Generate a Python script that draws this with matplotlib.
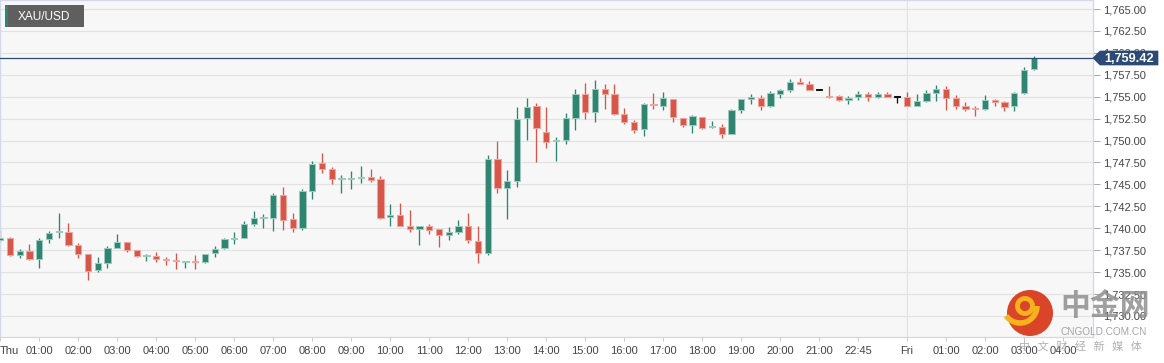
import matplotlib
matplotlib.use("Agg")
import matplotlib.pyplot as plt
from matplotlib.patches import Rectangle, Polygon, Circle, Arc
from matplotlib.ticker import FuncFormatter, FixedLocator

# ---------------- data ----------------
symbol = "XAU/USD"
last_price = 1759.42

opens = [1738.70, 1738.85, 1736.91, 1737.40, 1736.53, 1738.73, 1739.56, 1739.60, 1738.09, 1737.02,
         1735.20, 1736.00, 1737.78, 1738.43, 1737.52, 1736.80, 1736.83, 1736.53, 1736.38, 1736.19,
         1736.30, 1736.11, 1737.14, 1737.71, 1738.81, 1738.92, 1740.48, 1741.20, 1741.20, 1743.75,
         1741.05, 1740.06, 1744.24, 1747.40, 1746.75, 1745.57, 1745.61, 1745.76, 1745.80, 1745.57,
         1741.32, 1741.51, 1740.25, 1739.91, 1740.29, 1739.87, 1739.19, 1739.57, 1740.25, 1738.58,
         1737.21, 1747.88, 1744.63, 1745.39, 1752.57, 1753.90, 1750.97, 1749.91, 1750.02, 1752.53,
         1755.27, 1753.22, 1755.88, 1755.31, 1753.07, 1752.15, 1751.28, 1754.21, 1753.98, 1754.74,
         1752.53, 1751.77, 1752.68, 1751.50, 1751.55, 1750.75, 1753.48, 1754.78, 1754.89, 1753.98,
         1755.35, 1755.76, 1756.64, 1756.45, 1755.72, 1755.12, 1755.04, 1754.66, 1755.00, 1755.27,
         1754.93, 1755.31, 1754.93, 1754.97, 1753.98, 1754.55, 1755.46, 1755.84, 1754.85, 1753.94,
         1753.67, 1753.56, 1754.59, 1754.40, 1753.90, 1755.42, 1758.13]
highs = [1739.80, 1739.04, 1737.67, 1738.16, 1738.85, 1739.68, 1741.74, 1740.60, 1738.35, 1737.10,
         1736.68, 1737.97, 1739.30, 1738.45, 1737.55, 1737.06, 1737.33, 1736.76, 1737.14, 1736.27,
         1736.91, 1737.02, 1737.94, 1738.85, 1739.53, 1740.82, 1741.96, 1741.58, 1744.02, 1744.70,
         1741.74, 1744.43, 1747.63, 1748.58, 1746.98, 1746.07, 1746.49, 1747.06, 1746.75, 1745.92,
         1742.76, 1742.88, 1742.08, 1740.29, 1740.44, 1739.90, 1740.10, 1740.94, 1741.70, 1740.22,
         1748.31, 1749.93, 1746.62, 1753.79, 1754.85, 1754.28, 1753.79, 1750.37, 1753.14, 1755.88,
         1756.56, 1756.90, 1756.45, 1756.45, 1753.67, 1752.34, 1754.32, 1755.42, 1755.54, 1754.78,
         1752.56, 1752.91, 1752.70, 1752.23, 1751.85, 1753.60, 1754.76, 1755.35, 1755.20, 1755.61,
         1755.92, 1757.02, 1757.13, 1756.75, 1755.72, 1756.22, 1755.23, 1755.04, 1755.61, 1755.50,
         1755.57, 1755.50, 1754.95, 1755.57, 1755.27, 1755.76, 1756.30, 1756.18, 1755.16, 1754.44,
         1753.90, 1755.20, 1754.74, 1754.47, 1755.50, 1758.35, 1759.60]
lows = [1738.47, 1736.83, 1736.64, 1736.34, 1735.43, 1738.28, 1738.85, 1737.94, 1736.57, 1734.06,
        1734.97, 1735.50, 1737.78, 1737.33, 1736.76, 1736.23, 1736.19, 1735.77, 1735.35, 1735.43,
        1735.35, 1736.07, 1736.68, 1737.63, 1738.16, 1738.90, 1740.29, 1739.99, 1739.65, 1739.76,
        1739.53, 1739.76, 1743.29, 1746.33, 1745.00, 1743.98, 1744.51, 1745.19, 1745.31, 1741.01,
        1740.29, 1740.25, 1739.53, 1738.05, 1739.30, 1737.82, 1738.70, 1739.30, 1738.35, 1736.00,
        1736.91, 1744.07, 1741.01, 1744.67, 1750.02, 1747.52, 1749.11, 1747.71, 1749.57, 1751.17,
        1752.42, 1752.08, 1753.64, 1752.95, 1751.85, 1750.82, 1750.56, 1753.64, 1753.48, 1752.12,
        1751.58, 1750.90, 1751.32, 1751.43, 1750.33, 1750.70, 1753.18, 1754.13, 1753.52, 1753.86,
        1754.81, 1755.57, 1756.40, 1755.74, 1755.72, 1754.81, 1754.47, 1754.21, 1754.66, 1754.55,
        1754.91, 1754.95, 1754.32, 1753.92, 1753.96, 1754.36, 1754.47, 1753.45, 1753.56, 1753.37,
        1752.76, 1753.54, 1753.90, 1753.41, 1753.41, 1755.35, 1758.05]
closes = [1738.90, 1736.91, 1737.37, 1736.53, 1738.66, 1739.42, 1739.63, 1738.13, 1737.06, 1735.09,
          1736.00, 1737.78, 1738.43, 1737.48, 1736.87, 1736.87, 1736.49, 1736.34, 1736.23, 1736.27,
          1736.11, 1737.02, 1737.63, 1738.73, 1738.89, 1740.44, 1741.20, 1741.24, 1743.75, 1740.98,
          1740.08, 1744.24, 1747.36, 1746.75, 1745.65, 1745.69, 1745.69, 1745.88, 1745.54, 1741.20,
          1741.47, 1740.25, 1739.91, 1740.29, 1739.84, 1739.19, 1739.57, 1740.25, 1738.62, 1737.21,
          1747.93, 1744.64, 1745.42, 1752.50, 1753.83, 1751.39, 1749.87, 1750.06, 1752.53, 1755.27,
          1753.26, 1755.92, 1755.27, 1753.07, 1752.15, 1751.24, 1754.21, 1754.02, 1754.81, 1752.65,
          1751.77, 1752.76, 1751.47, 1751.55, 1750.75, 1753.48, 1754.74, 1754.93, 1753.98, 1755.38,
          1755.80, 1756.64, 1756.41, 1755.76, 1755.72, 1754.97, 1754.66, 1754.89, 1755.31, 1754.93,
          1755.31, 1754.97, 1754.93, 1753.94, 1754.55, 1755.46, 1755.84, 1754.85, 1753.98, 1753.64,
          1753.56, 1754.59, 1754.44, 1753.86, 1755.46, 1758.08, 1759.42]

tick_idx = [0, 4, 8, 12, 16, 20, 24, 28, 32, 36, 40, 44, 48, 52, 56, 60, 64, 68, 72, 76, 80, 84,
            88, 93, 97, 101, 105, 109]
tick_labels = ["Thu", "01:00", "02:00", "03:00", "04:00", "05:00", "06:00", "07:00", "08:00",
               "09:00", "10:00", "11:00", "12:00", "13:00", "14:00", "15:00", "16:00", "17:00",
               "18:00", "19:00", "20:00", "21:00", "22:45", "Fri", "01:00", "02:00", "03:00", "04:00"]
day_break_idx = 93
y_ticks = [1730.0, 1732.5, 1735.0, 1737.5, 1740.0, 1742.5, 1745.0, 1747.5, 1750.0,
           1752.5, 1755.0, 1757.5, 1760.0, 1762.5, 1765.0]

# ---------------- style ----------------
W, H = 1164, 363
GREEN, GREEN_EDGE = "#2f8571", "#9dcabd"
RED, RED_EDGE = "#d6574a", "#eca69d"
NAVY = "#2b4a75"
FONT = "Liberation Sans"
CJK = ["Noto Sans CJK SC", "DejaVu Sans"]

fig = plt.figure(figsize=(W / 100, H / 100), dpi=100)
fig.patch.set_facecolor("white")
ax = fig.add_axes([0, 26 / H, 1093 / W, 337 / H])
ax.set_facecolor("#f7f7f7")


def px(x, y):
    return (x / 100, (H - y) / 100)


# grid
ax.set_ylim(1727.60, 1766.03)
ax.set_xlim(-0.02, 112.08)
ax.yaxis.set_major_locator(FixedLocator(y_ticks))
ax.yaxis.set_major_formatter(FuncFormatter(lambda v, _: f"{v:,.2f}"))
ax.grid(axis="y", color="#e2e2e2", lw=0.8, zorder=0)
ax.axvline(day_break_idx, color="#e2e2e2", lw=0.8, zorder=0)

# candles
w = 0.64
for i, (o, h, l, c) in enumerate(zip(opens, highs, lows, closes)):
    if c > o:
        fc, ec = GREEN, GREEN_EDGE
    elif c < o:
        fc, ec = RED, RED_EDGE
    else:
        fc, ec = "#111111", "#111111"
    ax.vlines(i, l, h, color=fc, lw=0.95, zorder=2)
    bot = min(o, c)
    hgt = max(abs(c - o), 0.11)
    ax.add_patch(Rectangle((i - w / 2, bot), w, hgt, facecolor=fc, edgecolor=ec,
                           lw=0.75, zorder=3))

# last price line
ax.axhline(last_price, color=NAVY, lw=0.9, zorder=4)

# axes cosmetics
for s in ax.spines.values():
    s.set_color("#d3d7e8")
    s.set_linewidth(0.9)
ax.yaxis.tick_right()
ax.tick_params(axis="y", length=5, width=0.7, color="#a8a8a8", pad=2,
               labelsize=8, labelcolor="#444444")
ax.set_xticks(tick_idx)
ax.set_xticklabels(tick_labels)
ax.tick_params(axis="x", length=3, width=0.7, color="#c8c8c8", pad=3.5,
               labelsize=8, labelcolor="#444444")
for lab in ax.get_xticklabels() + ax.get_yticklabels():
    lab.set_fontfamily(FONT)
ax.get_xticklabels()[0].set_ha("left")

# price label on the right axis
tr = fig.dpi_scale_trans
pts = [px(1093, 58), px(1100, 51), px(1158, 51), px(1158, 65), px(1100, 65)]
fig.add_artist(Polygon(pts, closed=True, transform=tr, facecolor=NAVY, edgecolor=NAVY, lw=0.5))
fig.text(*px(1129, 58.5), f"{last_price:,.2f}", transform=tr, ha="center", va="center",
         color="white", fontsize=9.2, fontweight="bold", family=FONT)

# symbol legend box
fig.add_artist(Rectangle(px(5, 27), 0.79, 0.22, transform=tr, facecolor="#5f5f5f",
                         edgecolor="none"))
fig.add_artist(Rectangle(px(5, 27), 0.025, 0.22, transform=tr, facecolor=GREEN,
                         edgecolor="none"))
fig.text(*px(44, 16.5), symbol, transform=tr, ha="center", va="center", color="white",
         fontsize=8.6, family=FONT)

# watermark
fig.add_artist(Circle(px(1030, 313), 0.23, transform=tr, facecolor="#d93a1e",
                      edgecolor="none", alpha=0.95))
fig.add_artist(Arc(px(1025, 306), 0.15, 0.15, transform=tr, theta1=0, theta2=360,
                   color="#f6b21c", lw=3.5))
fig.add_artist(Arc(px(1020, 306), 0.34, 0.34, transform=tr, theta1=215, theta2=360,
                   color="#f6b21c", lw=4))
fig.text(*px(1105, 306), "中金网", transform=tr, ha="center", va="center",
         color="#8f8f8f", alpha=0.85, fontsize=21.5, fontweight="bold", family=CJK)
fig.text(*px(1104, 332), "CNGOLD.COM.CN", transform=tr, ha="center", va="center",
         color="#9a9a9a", alpha=0.9, fontsize=7.2, family=FONT)
fig.text(*px(1080, 346), "中   文   财   经   新   媒   体", transform=tr, ha="center",
         va="center", color="#a8a8a8", alpha=0.9, fontsize=8, family=CJK)

fig.savefig("out.png", dpi=100)
